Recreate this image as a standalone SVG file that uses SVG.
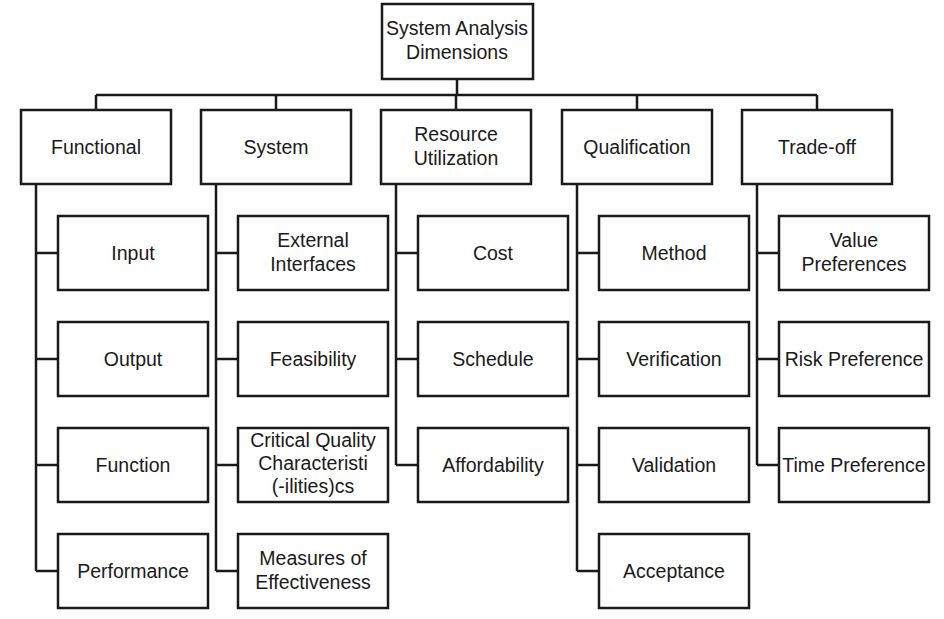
<svg xmlns="http://www.w3.org/2000/svg" width="944" height="619" viewBox="0 0 944 619">
<style>
.b{fill:#fff;stroke:#1a1a1a;stroke-width:2.5}
.c{fill:none;stroke:#1a1a1a;stroke-width:2.5}
text{font-family:"Liberation Sans",Arial,sans-serif;font-size:19.5px;fill:#1a1a1a;text-anchor:middle}
</style>
<rect width="944" height="619" fill="#fff"/>
<g id="connectors">
<path class="c" d="M457 79V95M96 95H817M96 95V110M276 95V110M456 95V110M637 95V110M817 95V110"/>
<path class="c" d="M36 184V571M36 253H58M36 359H58M36 465H58M36 571H58"/>
<path class="c" d="M216 184V571M216 253H238M216 359H238M216 465H238M216 571H238"/>
<path class="c" d="M396 184V465M396 253H418M396 359H418M396 465H418"/>
<path class="c" d="M577 184V571M577 253H599M577 359H599M577 465H599M577 571H599"/>
<path class="c" d="M757 184V465M757 253H779M757 359H779M757 465H779"/>
</g>
<g id="root"><rect class="b" x="382" y="4" width="151" height="75"/><text x="457" y="35">System Analysis</text><text x="457" y="59">Dimensions</text></g>
<g id="functional"><rect class="b" x="21" y="110" width="150" height="74"/><text x="96" y="154">Functional</text></g>
<g id="system"><rect class="b" x="201" y="110" width="150" height="74"/><text x="276" y="154">System</text></g>
<g id="resource"><rect class="b" x="381" y="110" width="150" height="74"/><text x="456" y="141">Resource</text><text x="456" y="165">Utilization</text></g>
<g id="qualification"><rect class="b" x="562" y="110" width="150" height="74"/><text x="637" y="154">Qualification</text></g>
<g id="tradeoff"><rect class="b" x="742" y="110" width="150" height="74"/><text x="817" y="154">Trade-off</text></g>
<g id="input"><rect class="b" x="58" y="216" width="150" height="74"/><text x="133" y="260">Input</text></g>
<g id="output"><rect class="b" x="58" y="322" width="150" height="74"/><text x="133" y="366">Output</text></g>
<g id="function"><rect class="b" x="58" y="428" width="150" height="74"/><text x="133" y="472">Function</text></g>
<g id="performance"><rect class="b" x="58" y="534" width="150" height="74"/><text x="133" y="578">Performance</text></g>
<g id="external"><rect class="b" x="238" y="216" width="150" height="74"/><text x="313" y="247">External</text><text x="313" y="271">Interfaces</text></g>
<g id="feasibility"><rect class="b" x="238" y="322" width="150" height="74"/><text x="313" y="366">Feasibility</text></g>
<g id="critical"><rect class="b" x="238" y="428" width="150" height="74"/><text x="313" y="447">Critical Quality</text><text x="313" y="470">Characteristi</text><text x="313" y="493">(-ilities)cs</text></g>
<g id="moe"><rect class="b" x="238" y="534" width="150" height="74"/><text x="313" y="565">Measures of</text><text x="313" y="589">Effectiveness</text></g>
<g id="cost"><rect class="b" x="418" y="216" width="150" height="74"/><text x="493" y="260">Cost</text></g>
<g id="schedule"><rect class="b" x="418" y="322" width="150" height="74"/><text x="493" y="366">Schedule</text></g>
<g id="affordability"><rect class="b" x="418" y="428" width="150" height="74"/><text x="493" y="472">Affordability</text></g>
<g id="method"><rect class="b" x="599" y="216" width="150" height="74"/><text x="674" y="260">Method</text></g>
<g id="verification"><rect class="b" x="599" y="322" width="150" height="74"/><text x="674" y="366">Verification</text></g>
<g id="validation"><rect class="b" x="599" y="428" width="150" height="74"/><text x="674" y="472">Validation</text></g>
<g id="acceptance"><rect class="b" x="599" y="534" width="150" height="74"/><text x="674" y="578">Acceptance</text></g>
<g id="value"><rect class="b" x="779" y="216" width="150" height="74"/><text x="854" y="247">Value</text><text x="854" y="271">Preferences</text></g>
<g id="risk"><rect class="b" x="779" y="322" width="150" height="74"/><text x="854" y="366">Risk Preference</text></g>
<g id="time"><rect class="b" x="779" y="428" width="150" height="74"/><text x="854" y="472">Time Preference</text></g>
</svg>
